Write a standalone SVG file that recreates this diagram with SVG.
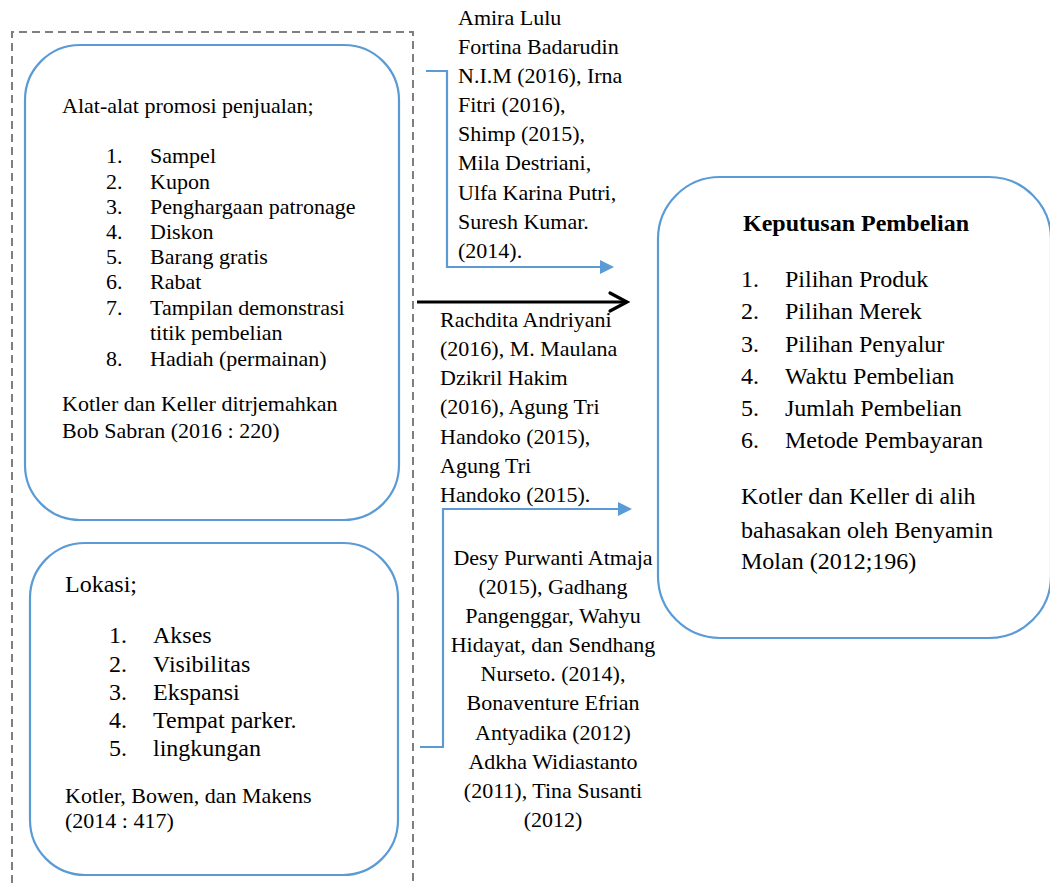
<svg xmlns="http://www.w3.org/2000/svg" width="1050" height="883" viewBox="0 0 1050 883">
<style>
text{font-family:"Liberation Serif","Times New Roman",serif;fill:#000}
.t22{font-size:22px}
.t24{font-size:24px}
.b{font-weight:bold}
.box{fill:#fff;stroke:#5b9bd5;stroke-width:2.2}
.conn{fill:none;stroke:#5b9bd5;stroke-width:2.2}
.head{fill:#5b9bd5}
</style>
<rect width="1050" height="883" fill="#fff"/>
<g id="frame">
<path d="M12,883 V32 H413 V883" fill="none" stroke="#7f7f7f" stroke-width="2" stroke-dasharray="8 5"/>
</g>
<g id="promosi">
<rect class="box" x="25" y="45" width="374" height="475" rx="55"/>
<text class="t22" x="62" y="113">Alat-alat promosi penjualan;</text>
<g class="t22">
<text x="106" y="163">1.</text><text x="150" y="163">Sampel</text>
<text x="106" y="189">2.</text><text x="150" y="189">Kupon</text>
<text x="106" y="214">3.</text><text x="150" y="214">Penghargaan patronage</text>
<text x="106" y="239">4.</text><text x="150" y="239">Diskon</text>
<text x="106" y="264">5.</text><text x="150" y="264">Barang gratis</text>
<text x="106" y="289">6.</text><text x="150" y="289">Rabat</text>
<text x="106" y="315">7.</text><text x="150" y="315">Tampilan demonstrasi</text>
<text x="150" y="340">titik pembelian</text>
<text x="106" y="366">8.</text><text x="150" y="366">Hadiah (permainan)</text>
</g>
<text class="t22" x="62" y="411">Kotler dan Keller ditrjemahkan</text>
<text class="t22" x="62" y="438">Bob Sabran (2016 : 220)</text>
</g>
<g id="lokasi">
<rect class="box" x="30" y="543" width="368" height="332" rx="55"/>
<text class="t24" x="65" y="592">Lokasi;</text>
<g class="t24">
<text x="109" y="643">1.</text><text x="153" y="643">Akses</text>
<text x="109" y="672">2.</text><text x="153" y="672">Visibilitas</text>
<text x="109" y="700">3.</text><text x="153" y="700">Ekspansi</text>
<text x="109" y="728">4.</text><text x="153" y="728">Tempat parker.</text>
<text x="109" y="756">5.</text><text x="153" y="756">lingkungan</text>
</g>
<text class="t22" x="65" y="803">Kotler, Bowen, dan Makens</text>
<text class="t22" x="65" y="828">(2014 : 417)</text>
</g>
<g id="keputusan">
<rect class="box" x="658" y="177" width="393" height="461" rx="62"/>
<text class="t24 b" x="743" y="231">Keputusan Pembelian</text>
<g class="t24">
<text x="741" y="287">1.</text><text x="785" y="287">Pilihan Produk</text>
<text x="741" y="319">2.</text><text x="785" y="319">Pilihan Merek</text>
<text x="741" y="352">3.</text><text x="785" y="352">Pilihan Penyalur</text>
<text x="741" y="384">4.</text><text x="785" y="384">Waktu Pembelian</text>
<text x="741" y="416">5.</text><text x="785" y="416">Jumlah Pembelian</text>
<text x="741" y="448">6.</text><text x="785" y="448">Metode Pembayaran</text>
<text x="741" y="504">Kotler dan Keller di alih</text>
<text x="741" y="538">bahasakan oleh Benyamin</text>
<text x="741" y="569">Molan (2012;196)</text>
</g>
</g>
<g id="ref1" class="t22">
<text x="458" y="25">Amira Lulu</text>
<text x="458" y="54">Fortina Badarudin</text>
<text x="458" y="83">N.I.M (2016), Irna</text>
<text x="458" y="112">Fitri (2016),</text>
<text x="458" y="141">Shimp (2015),</text>
<text x="458" y="170">Mila Destriani,</text>
<text x="458" y="200">Ulfa Karina Putri,</text>
<text x="458" y="229">Suresh Kumar.</text>
<text x="458" y="258">(2014).</text>
</g>
<g id="ref2" class="t22">
<text x="440" y="327">Rachdita Andriyani</text>
<text x="440" y="356">(2016), M. Maulana</text>
<text x="440" y="385">Dzikril Hakim</text>
<text x="440" y="414">(2016), Agung Tri</text>
<text x="440" y="444">Handoko (2015),</text>
<text x="440" y="473">Agung Tri</text>
<text x="440" y="502">Handoko (2015).</text>
</g>
<g id="ref3" class="t22" text-anchor="middle">
<text x="553" y="565">Desy Purwanti Atmaja</text>
<text x="553" y="594">(2015), Gadhang</text>
<text x="553" y="623">Pangenggar, Wahyu</text>
<text x="553" y="652">Hidayat, dan Sendhang</text>
<text x="553" y="681">Nurseto. (2014),</text>
<text x="553" y="710">Bonaventure Efrian</text>
<text x="553" y="740">Antyadika (2012)</text>
<text x="553" y="769">Adkha Widiastanto</text>
<text x="553" y="798">(2011), Tina Susanti</text>
<text x="553" y="827">(2012)</text>
</g>
<g id="connectors">
<path class="conn" d="M426,71 H447 V267 H601"/>
<polygon class="head" points="600,260 614,267 600,274"/>
<path class="conn" d="M420,747 H443 V509 H619"/>
<polygon class="head" points="618,502 632,509 618,516"/>
<path d="M417,302 H626" stroke="#000" stroke-width="3" fill="none"/>
<path d="M610,293 L627,302 L610,311" stroke="#000" stroke-width="3.2" fill="none" stroke-linecap="round" stroke-linejoin="miter"/>
</g>
</svg>
